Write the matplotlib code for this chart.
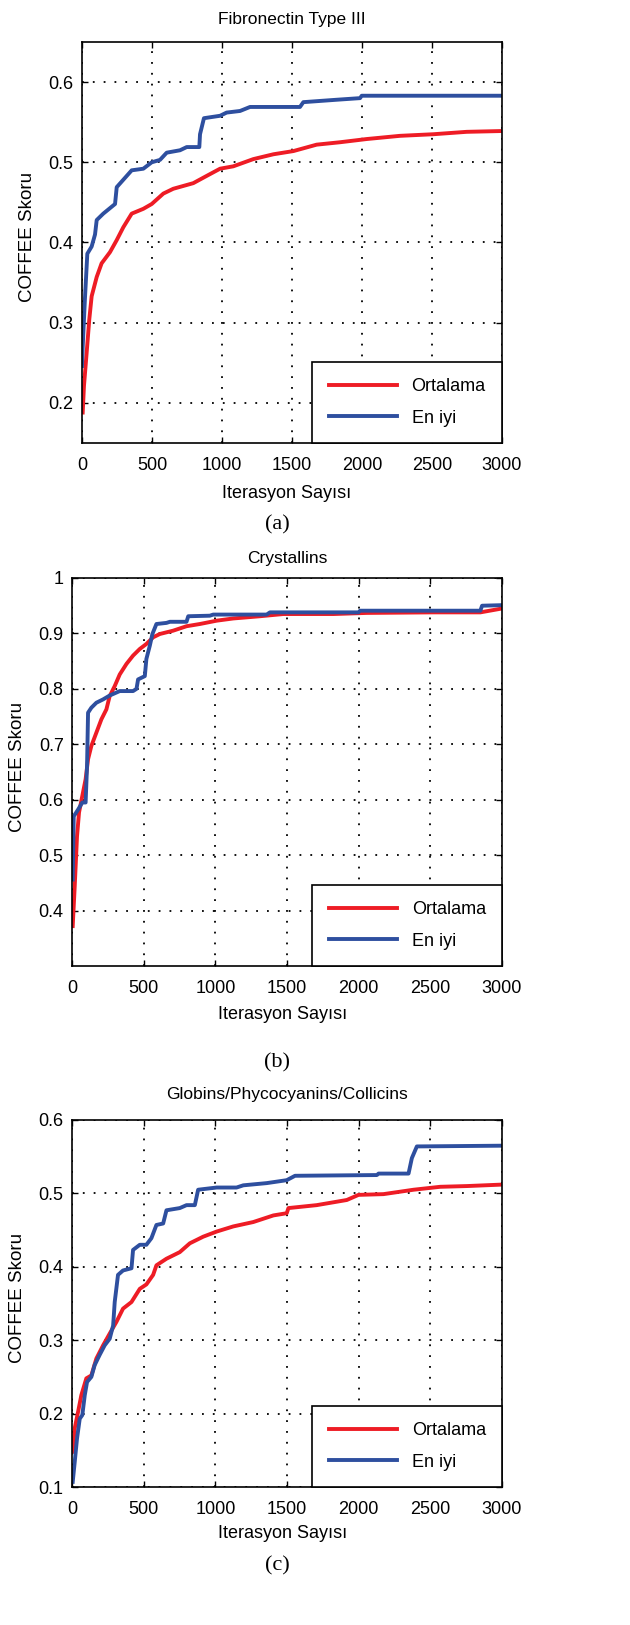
import matplotlib
matplotlib.use("Agg")
import matplotlib.pyplot as plt

plt.rcParams['font.family'] = ['Liberation Sans', 'DejaVu Sans']

RED = '#ee1c25'
BLUE = '#2e4f9f'

# (a) Fibronectin Type III
a_best_x = [0, 5, 21, 38, 69, 93, 105, 152, 236, 248, 355, 438, 498, 557, 605, 700,
            748, 838, 843, 871, 986, 1033, 1129, 1200, 1557, 1581, 1819, 1986, 1998, 3000]
a_best_y = [0.246, 0.27, 0.33, 0.386, 0.395, 0.41, 0.428, 0.436, 0.448, 0.469, 0.49, 0.492,
            0.50, 0.503, 0.512, 0.515, 0.519, 0.519, 0.535, 0.555, 0.558, 0.562, 0.564,
            0.569, 0.569, 0.575, 0.578, 0.58, 0.583, 0.583]
a_mean_x = [5, 14, 33, 52, 69, 105, 140, 200, 248, 295, 355, 438, 498, 581, 652, 795, 890,
            986, 1081, 1224, 1367, 1510, 1676, 1843, 2033, 2271, 2510, 2748, 3000]
a_mean_y = [0.188, 0.221, 0.262, 0.304, 0.333, 0.357, 0.374, 0.388, 0.403, 0.419, 0.436,
            0.442, 0.448, 0.461, 0.467, 0.474, 0.483, 0.492, 0.495, 0.504, 0.51, 0.514,
            0.522, 0.525, 0.529, 0.533, 0.535, 0.538, 0.539]

# (b) Crystallins
b_best_x = [5, 12, 42, 72, 95, 105, 112, 135, 170, 217, 263, 333, 426, 450, 461, 508, 519,
            543, 561, 589, 659, 683, 799, 811, 962, 985, 1358, 1381, 1999, 2010, 2849, 2861, 3000]
b_best_y = [0.456, 0.57, 0.582, 0.595, 0.595, 0.661, 0.757, 0.766, 0.775, 0.781, 0.788,
            0.796, 0.796, 0.80, 0.817, 0.823, 0.854, 0.878, 0.899, 0.917, 0.919, 0.921,
            0.921, 0.931, 0.932, 0.934, 0.934, 0.938, 0.938, 0.941, 0.941, 0.95, 0.951]
b_mean_x = [5, 19, 35, 49, 72, 95, 112, 135, 170, 205, 240, 263, 298, 333, 380, 426, 473,
            519, 566, 613, 706, 799, 892, 1009, 1125, 1311, 1474, 1824, 2057, 2522, 2849, 3000]
b_mean_y = [0.372, 0.444, 0.534, 0.577, 0.607, 0.637, 0.673, 0.697, 0.721, 0.745, 0.763,
            0.787, 0.805, 0.826, 0.845, 0.86, 0.872, 0.881, 0.893, 0.899, 0.905, 0.913,
            0.917, 0.923, 0.927, 0.931, 0.935, 0.935, 0.937, 0.938, 0.938, 0.945]

# (c) Globins/Phycocyanins/Collicins
c_best_x = [5, 19, 35, 54, 72, 89, 105, 135, 158, 193, 228, 263, 287, 298, 321, 356, 415,
            426, 473, 519, 554, 589, 636, 659, 752, 799, 857, 880, 1009, 1148, 1195, 1358,
            1498, 1556, 2127, 2139, 2348, 2371, 2406, 3000]
c_best_y = [0.107, 0.134, 0.166, 0.193, 0.198, 0.225, 0.243, 0.25, 0.266, 0.28, 0.293,
            0.302, 0.32, 0.352, 0.389, 0.395, 0.398, 0.423, 0.43, 0.43, 0.439, 0.457,
            0.459, 0.477, 0.48, 0.484, 0.484, 0.505, 0.508, 0.508, 0.511, 0.514, 0.518,
            0.524, 0.525, 0.527, 0.527, 0.548, 0.564, 0.565]
c_mean_x = [5, 19, 42, 65, 100, 135, 170, 217, 263, 310, 356, 415, 473, 519, 566, 589, 659,
            752, 822, 915, 1009, 1125, 1265, 1405, 1498, 1510, 1707, 1917, 1999, 2173,
            2383, 2569, 2755, 3000]
c_mean_y = [0.148, 0.18, 0.202, 0.225, 0.248, 0.252, 0.275, 0.293, 0.309, 0.325, 0.343,
            0.352, 0.37, 0.376, 0.389, 0.402, 0.411, 0.42, 0.432, 0.441, 0.448, 0.455,
            0.461, 0.47, 0.473, 0.48, 0.484, 0.491, 0.498, 0.499, 0.505, 0.509, 0.51, 0.512]

x_ticks = [0, 500, 1000, 1500, 2000, 2500, 3000]
legend_labels = ['Ortalama', 'En iyi']

W, H = 630, 1625
fig = plt.figure(figsize=(W / 100, H / 100), dpi=100, facecolor='white')


def px_axes(left, right, top, bottom):
    return fig.add_axes([left / W, 1 - bottom / H, (right - left) / W, (bottom - top) / H])


panels = [
    dict(box=(82, 502, 42, 443), title='Fibronectin Type III', pad=13, ylim=(0.15, 0.65),
         yticks=[0.2, 0.3, 0.4, 0.5, 0.6], mean=(a_mean_x, a_mean_y), best=(a_best_x, a_best_y),
         xlab=(287, 493), ylab=(28, 237), tag=('(a)', 277, 525)),
    dict(box=(72, 502, 578, 966), title='Crystallins', pad=11, ylim=(0.3, 1.0),
         yticks=[0.4, 0.5, 0.6, 0.7, 0.8, 0.9, 1.0], mean=(b_mean_x, b_mean_y),
         best=(b_best_x, b_best_y), xlab=(283, 1015), ylab=(18, 767), tag=('(b)', 277, 1063)),
    dict(box=(72, 502, 1120, 1487), title='Globins/Phycocyanins/Collicins', pad=15,
         ylim=(0.1, 0.6), yticks=[0.1, 0.2, 0.3, 0.4, 0.5, 0.6], mean=(c_mean_x, c_mean_y),
         best=(c_best_x, c_best_y), xlab=(283, 1533), ylab=(18, 1298), tag=('(c)', 277, 1566)),
]

for p in panels:
    ax = px_axes(*p['box'])
    ax.plot(*p['mean'], color=RED, lw=2.8, label=legend_labels[0])
    ax.plot(*p['best'], color=BLUE, lw=2.8, label=legend_labels[1])
    ax.set_xlim(0, 3000)
    ax.set_ylim(*p['ylim'])
    ax.set_xticks(x_ticks)
    ax.set_yticks(p['yticks'])
    ax.set_yticklabels(['%g' % v for v in p['yticks']])
    ax.grid(True, color='black', linestyle=(0, (1, 5)), linewidth=1.3)
    ax.tick_params(direction='in', top=True, right=True, length=4, width=1,
                   labelsize=13, pad=6)
    ax.tick_params(axis='x', pad=10)
    for s in ax.spines.values():
        s.set_linewidth(1.2)
    ax.set_title(p['title'], fontsize=12.5, pad=p['pad'])
    leg = ax.legend(loc='lower right', fontsize=13, borderaxespad=0, fancybox=False,
                    edgecolor='black', framealpha=1, handlelength=3.8, borderpad=0.9,
                    labelspacing=0.8)
    leg.get_frame().set_linewidth(1.2)
    fig.text(p['xlab'][0] / W, 1 - p['xlab'][1] / H, 'Iterasyon Sayısı', fontsize=13,
             ha='center', va='center')
    fig.text(p['ylab'][0] / W, 1 - p['ylab'][1] / H, 'COFFEE Skoru', fontsize=13.5,
             ha='center', va='center', rotation=90)
    fig.text(p['tag'][1] / W, 1 - p['tag'][2] / H, p['tag'][0], fontsize=16,
             family='Liberation Serif', ha='center', va='center')

fig.savefig('out.png', dpi=100, facecolor='white')
